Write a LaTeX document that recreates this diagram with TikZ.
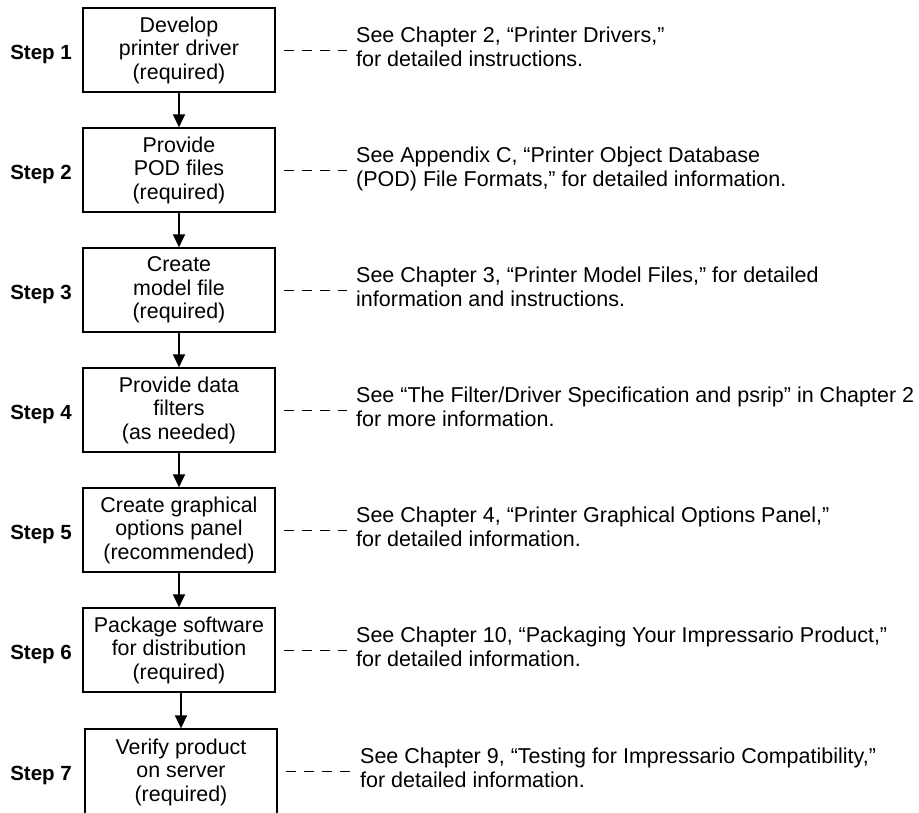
\documentclass[tikz,border=0pt]{standalone}
\usepackage{fontspec}
\setmainfont{Liberation Sans}
\usetikzlibrary{arrows.meta}
\newcommand{\reflines}[2]{\begin{tabular}[t]{@{}l@{}}#1\\#2\end{tabular}}
\tikzset{
  stepbox/.style={draw, line width=1.3pt, minimum width=192pt, minimum height=84pt,
    inner sep=0pt, align=center, font=\fontsize{21.4}{23.5}\selectfont},
  steplabel/.style={anchor=base east, inner sep=0pt, font=\fontsize{20.5}{24}\selectfont\bfseries},
  reftext/.style={anchor=base west, inner sep=0pt, font=\fontsize{21.5}{24}\selectfont},
  flow/.style={line width=1.4pt, -{Triangle[width=12pt,length=13pt]}},
  refline/.style={line width=0.9pt, dash pattern=on 10pt off 8pt, dash phase=10pt}
}
\begin{document}
\begin{tikzpicture}[x=1pt, y=-1pt]
\useasboundingbox (0,0) rectangle (919,812);
% boxes
\node[stepbox] (b1) at (179,50)  {Develop\\printer driver\\(required)};
\node[stepbox] (b2) at (179,170) {Provide\\POD files\\(required)};
\node[stepbox] (b3) at (179,290) {Create\\model file\\(required)};
\node[stepbox] (b4) at (179,410) {Provide data\\filters\\(as needed)};
\node[stepbox] (b5) at (179,530) {Create graphical\\options panel\\(recommended)};
\node[stepbox] (b6) at (179,650) {Package software\\for distribution\\(required)};
\node[stepbox, minimum height=86pt] (b7) at (181,772) {Verify product\\on server\\(required)};
% step labels
\node[steplabel] (s1) at (72,59.5)  {Step 1};
\node[steplabel] (s2) at (72,179.5) {Step 2};
\node[steplabel] (s3) at (72,299.5) {Step 3};
\node[steplabel] (s4) at (72,419.5) {Step 4};
\node[steplabel] (s5) at (72,539.5) {Step 5};
\node[steplabel] (s6) at (72,659.5) {Step 6};
\node[steplabel] (s7) at (72,780.5) {Step 7};
% arrows
\draw[flow] (b1.south) -- (b2.north);
\draw[flow] (b2.south) -- (b3.north);
\draw[flow] (b3.south) -- (b4.north);
\draw[flow] (b4.south) -- (b5.north);
\draw[flow] (b5.south) -- (b6.north);
\draw[flow] (b7.north |- b6.south) -- (b7.north);
% reference texts
\node[reftext] (r1) at (356,42)  {\reflines{See Chapter 2, “Printer Drivers,”}{for detailed instructions.}};
\node[reftext] (r2) at (356,162) {\reflines{See Appendix C, “Printer Object Database}{(POD) File Formats,” for detailed information.}};
\node[reftext] (r3) at (356,282) {\reflines{See Chapter 3, “Printer Model Files,” for detailed}{information and instructions.}};
\node[reftext] (r4) at (356,402) {\reflines{See “The Filter/Driver Specification and psrip” in Chapter 2}{for more information.}};
\node[reftext] (r5) at (356,522) {\reflines{See Chapter 4, “Printer Graphical Options Panel,”}{for detailed information.}};
\node[reftext] (r6) at (356,642) {\reflines{See Chapter 10, “Packaging Your Impressario Product,”}{for detailed information.}};
\node[reftext] (r7) at (360,763) {\reflines{See Chapter 9, “Testing for Impressario Compatibility,”}{for detailed information.}};
% dashed leaders
\coordinate (d1) at (347,50);
\coordinate (d2) at (347,170);
\coordinate (d3) at (347,290);
\coordinate (d4) at (347,410);
\coordinate (d5) at (347,530);
\coordinate (d6) at (347,650);
\coordinate (d7) at (350,771);
\draw[refline] (b1.east) -- (d1);
\draw[refline] (b2.east) -- (d2);
\draw[refline] (b3.east) -- (d3);
\draw[refline] (b4.east) -- (d4);
\draw[refline] (b5.east) -- (d5);
\draw[refline] (b6.east) -- (d6);
\draw[refline] (b7.east |- d7) -- (d7);
\end{tikzpicture}
\end{document}
